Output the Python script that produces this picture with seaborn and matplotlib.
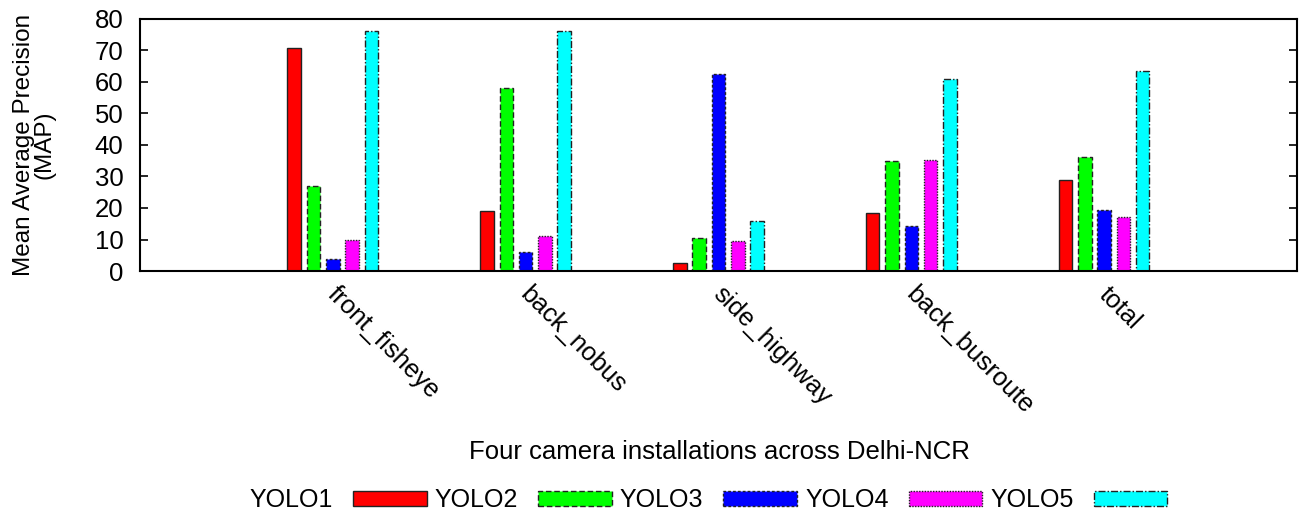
import numpy as np
import pandas as pd
import matplotlib
matplotlib.use('Agg')
import matplotlib.pyplot as plt
import matplotlib.transforms as mtransforms
from matplotlib.patches import Patch
import seaborn as sns

# values
categories = ['front_fisheye', 'back_nobus', 'side_highway', 'back_busroute', 'total']
models = ['YOLO1', 'YOLO2', 'YOLO3', 'YOLO4', 'YOLO5']
yolo1 = [70.8, 19.0, 2.5, 18.4, 28.9]
yolo2 = [27.0, 58.2, 10.5, 34.9, 36.2]
yolo3 = [3.8, 6.0, 62.5, 14.3, 19.4]
yolo4 = [9.8, 11.1, 9.5, 35.2, 17.1]
yolo5 = [76.2, 76.1, 15.9, 61.0, 63.5]

colors = ['#ff0000', '#00ff00', '#0000ff', '#ff00ff', '#00ffff']
dashes = ['-', (0, (4, 2)), (0, (2, 1.5)), (0, (1, 1)), (0, (5, 1.5, 1, 1.5))]

rows = []
for name, vals in zip(models, [yolo1, yolo2, yolo3, yolo4, yolo5]):
    for cat, v in zip(categories, vals):
        rows.append({'camera': cat, 'model': name, 'map': v})
df = pd.DataFrame(rows)

sns.set_style('white')
plt.rcParams['font.family'] = ['Liberation Sans', 'DejaVu Sans']
plt.rcParams['text.color'] = 'black'
plt.rcParams['axes.labelcolor'] = 'black'
plt.rcParams['xtick.color'] = 'black'
plt.rcParams['ytick.color'] = 'black'

fig = plt.figure(figsize=(13.03, 5.16), dpi=100)
ax = fig.add_axes([0.1074, 0.4748, 0.888, 0.4884])

sns.barplot(data=df, x='camera', y='map', hue='model', order=categories,
            hue_order=models, palette=colors, width=0.5, gap=0.3,
            edgecolor='#222222', linewidth=1.0, saturation=1, ax=ax,
            legend=False)

for cont, ls in zip(ax.containers, dashes):
    for bar in cont:
        bar.set_linestyle(ls)

ax.set_xlim(-1, 5)
ax.set_ylim(0, 80)
ax.set_yticks(range(0, 81, 10))
ax.tick_params(axis='y', direction='in', length=6, width=1.2, labelsize=18.5,
               left=True, right=True, pad=12, color='black')
ax.tick_params(axis='x', length=0, labelsize=18.5, pad=8)
ax.set_xticks(range(len(categories)))
ax.set_xticklabels(categories, rotation=-45, ha='left', va='top',
                   rotation_mode='anchor')
shift = mtransforms.ScaledTranslation(7 / 100, 0, fig.dpi_scale_trans)
for lbl in ax.get_xticklabels():
    lbl.set_transform(lbl.get_transform() + shift)
for sp in ax.spines.values():
    sp.set_visible(True)
    sp.set_color('black')
    sp.set_linewidth(1.5)

ax.set_ylabel('Mean Average Precision\n(MAP)', fontsize=17.5, linespacing=0.9,
              labelpad=28)
ax.set_xlabel('')
fig.text(0.5525, 0.124, 'Four camera installations across Delhi-NCR',
         ha='center', va='center', fontsize=18.5)

handles = [Patch(facecolor=c, edgecolor='#222222', linestyle=ls, linewidth=1.0,
                 label=m) for c, ls, m in zip(colors, dashes, models)]
fig.legend(handles=handles, loc='center', bbox_to_anchor=(0.5437, 0.031),
           ncol=5, frameon=False, markerfirst=False, fontsize=18,
           handlelength=2.95, handleheight=0.56, columnspacing=0.32,
           handletextpad=0.8)

fig.savefig('out.png', dpi=100)
